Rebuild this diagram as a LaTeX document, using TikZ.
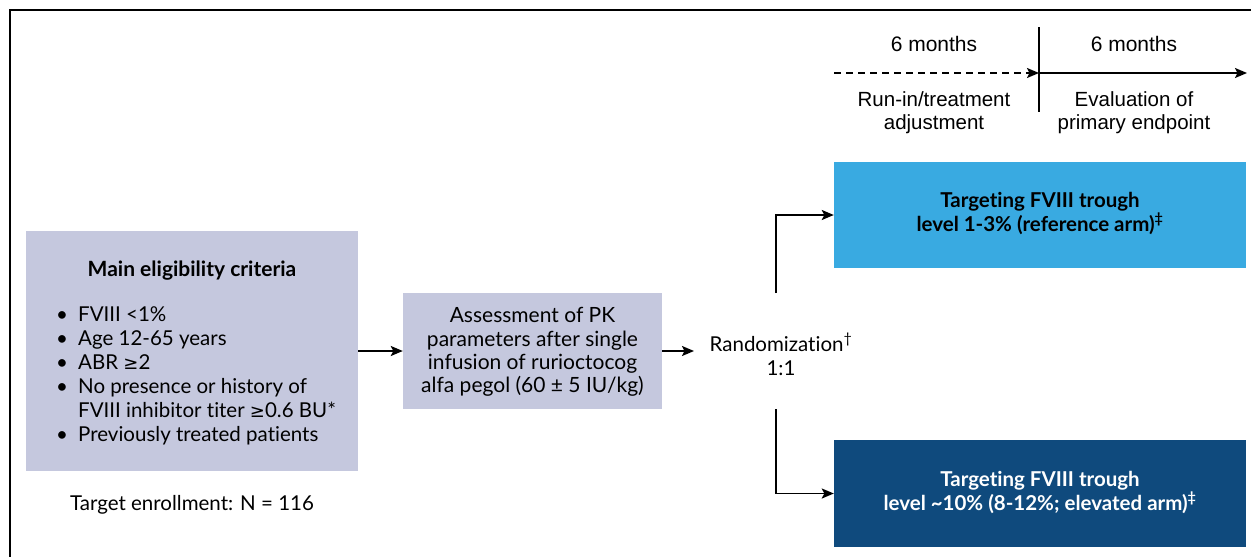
\documentclass[tikz,border=0pt]{standalone}
\usepackage{fontspec}
\usetikzlibrary{arrows.meta}
\setmainfont[Ligatures=NoCommon]{Lato}
\newfontfamily\arial{Liberation Sans}
\newfontfamily\dv{DejaVu Sans}
\definecolor{lav}{RGB}{197,200,222}
\definecolor{lblue}{RGB}{57,170,225}
\definecolor{dblue}{RGB}{15,74,125}
\newcommand{\mygeq}{{\dv\fontsize{18}{20}\selectfont ≥}}
\tikzset{
  box/.style={draw=none, inner sep=0pt},
  conn/.style={line width=1.8pt, -{Stealth[length=12pt,width=10pt,inset=2.5pt]}},
  plain/.style={line width=1.8pt},
  txt/.style={inner sep=0pt, align=center},
}
\begin{document}
\begin{tikzpicture}[x=1pt,y=-1pt,font=\fontsize{20.5}{24}\selectfont]
\useasboundingbox (0,0) rectangle (1251,557);
\fill[white] (0,0) rectangle (1251,557);
\draw[line width=2.5pt] (10,557) -- (10,10) -- (1251,10);

% timeline
\coordinate (t0) at (834,73);
\coordinate (tm) at (1039,73);
\coordinate (t1) at (1247,73);
\coordinate (vt) at (1039,27);
\coordinate (vb) at (1039,112);
\draw[plain] (vt) -- (vb);
\draw[conn, dash pattern=on 7pt off 5pt] (t0) -- (tm);
\draw[conn] (tm) -- (t1);
\node[txt, font=\arial\fontsize{21}{24}\selectfont] (m1) at (934,43.5) {6 months};
\node[txt, font=\arial\fontsize{21}{24}\selectfont] (m2) at (1134,43.5) {6 months};
\node[txt, font=\arial\fontsize{20.5}{23}\selectfont] (p1) at (934,113) {Run-in/treatment\\adjustment};
\node[txt, font=\arial\fontsize{20.5}{23}\selectfont] (p2) at (1134,113) {Evaluation of\\primary endpoint};

% left box
\node[box, fill=lav, minimum width=332pt, minimum height=240pt] (crit) at (192,351) {};
\node[txt, font=\bfseries\fontsize{21}{24}\selectfont] (ttl) at (192,270.5) {Main eligibility criteria};
\node[txt, anchor=north west, align=left, font=\fontsize{20.5}{24}\selectfont] (list) at (56,306) {%
\makebox[22pt][l]{•}FVIII <1\%\\
\makebox[22pt][l]{•}Age 12-65 years\\
\makebox[22pt][l]{•}ABR \mygeq 2\\
\makebox[22pt][l]{•}No presence or history of\\
\makebox[22pt][l]{}FVIII inhibitor titer \mygeq 0.6 BU*\\
\makebox[22pt][l]{•}Previously treated patients};
\node[txt] (enr) at (192,505) {Target enrollment: N = 116};

% middle box
\node[box, fill=lav, minimum width=259pt, minimum height=116pt] (pk) at (532.5,351) {};
\node[txt, font=\fontsize{21}{23.3}\selectfont] (pkt) at (532.5,352) {Assessment of PK\\parameters after single\\infusion of rurioctocog\\alfa pegol (60 ± 5 IU/kg)};

\node[txt] (rand) at (781,354.5) {Randomization\textsuperscript{†}\\1:1};
\coordinate (ra) at (694,351);
\coordinate (rj) at (776,293);
\coordinate (rk) at (776,409);

% arms
\node[box, fill=lblue, minimum width=412pt, minimum height=106pt] (arm1) at (1040,215) {};
\node[txt, font=\bfseries\fontsize{20.5}{23.5}\selectfont] (a1t) at (1040,213.5) {Targeting FVIII trough\\level 1-3\% (reference arm)\textsuperscript{‡}};
\node[box, fill=dblue, minimum width=412pt, minimum height=107pt] (arm2) at (1040,493.5) {};
\node[txt, text=white, font=\bfseries\fontsize{20.5}{23.5}\selectfont] (a2t) at (1040,492.5) {Targeting FVIII trough\\level \textasciitilde10\% (8-12\%; elevated arm)\textsuperscript{‡}};

% connectors
\draw[conn] (crit.east) -- (pk.west);
\draw[conn] (pk.east) -- (ra);
\draw[conn] (rj) |- (arm1.west);
\draw[conn] (rk) |- (arm2.west);
\end{tikzpicture}
\end{document}
